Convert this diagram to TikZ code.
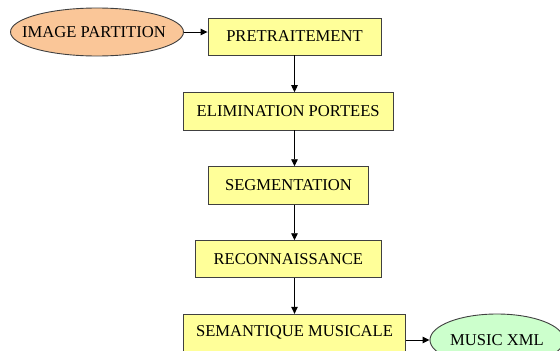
\documentclass[tikz,border=0pt]{standalone}
\usepackage{fontspec}
\setmainfont{Liberation Serif}
\usetikzlibrary{shapes.geometric,arrows.meta}
\definecolor{boxyellow}{HTML}{FFFF99}
\definecolor{ovorange}{HTML}{FAC698}
\definecolor{ovgreen}{HTML}{CCFFCC}
\definecolor{edge}{HTML}{404040}
\begin{document}
\begin{tikzpicture}[x=1pt,y=-1pt,
  txt/.style={font=\fontsize{16.6}{19}\selectfont},
  stepbox/.style={draw=edge,line width=0.9pt,fill=boxyellow,inner sep=0pt,txt},
  oval/.style={ellipse,draw=edge,line width=0.9pt,inner sep=0pt},
  link/.style={line width=0.9pt,-{Triangle[length=7pt,width=6.5pt]}}]
\path[fill=white] (0,0) rectangle (560,351);
\useasboundingbox (0,0) rectangle (560,351);
\node[oval,fill=ovorange,minimum width=173pt,minimum height=48pt,
  label={[txt,xshift=-3pt]center:IMAGE PARTITION}] (img) at (97,32) {};
\node[stepbox,minimum width=173pt,minimum height=37pt] (pre) at (294.5,36.5) {PRETRAITEMENT};
\node[stepbox,minimum width=209.7pt,minimum height=37.3pt] (elim) at (288.2,111.3) {ELIMINATION PORTEES};
\node[stepbox,minimum width=160.4pt,minimum height=37.6pt] (seg) at (288.5,185.5) {SEGMENTATION};
\node[stepbox,minimum width=185.3pt,minimum height=37pt] (rec) at (288.3,259.2) {RECONNAISSANCE};
\node[stepbox,minimum width=222.4pt,minimum height=37pt] (sem) at (294.5,332.8) {\raisebox{2pt}{SEMANTIQUE MUSICALE}};
\node[oval,fill=ovgreen,minimum width=134pt,minimum height=52pt,
  label={[txt]center:MUSIC XML}] (xml) at (497,340) {};
\draw[link] (img.east) -- (img.east -| pre.west);
\draw[link] (pre.south) -- (pre.south |- elim.north);
\draw[link] (pre.south |- elim.south) -- (pre.south |- seg.north);
\draw[link] (pre.south |- seg.south) -- (pre.south |- rec.north);
\draw[link] (pre.south |- rec.south) -- (pre.south |- sem.north);
\draw[link] (xml.west -| sem.east) -- (xml.west);
\end{tikzpicture}
\end{document}
